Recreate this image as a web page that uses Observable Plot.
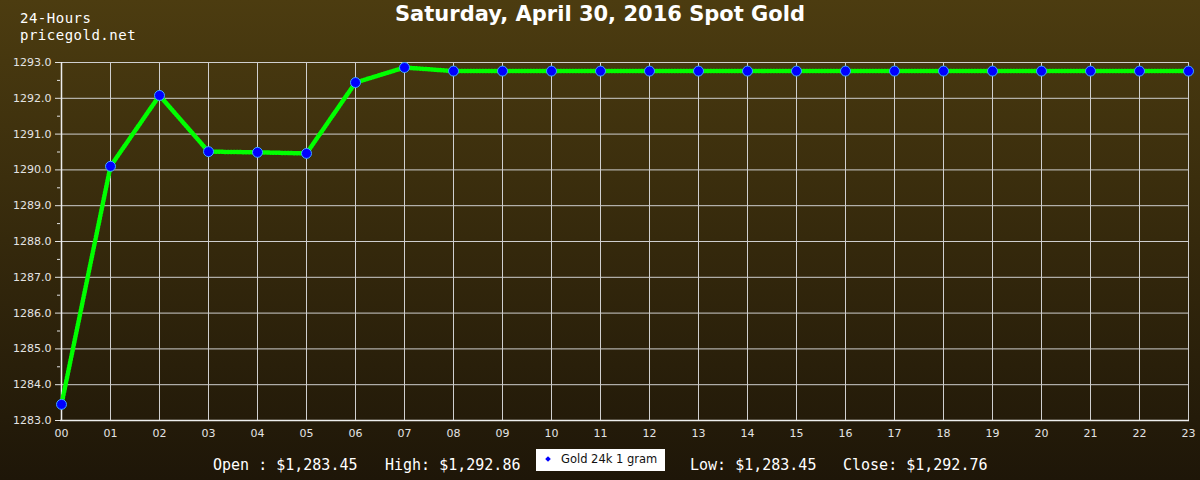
<!DOCTYPE html>
<html>
<head>
<meta charset="utf-8">
<script src="https://cdn.jsdelivr.net/npm/d3@7"></script>
<script src="https://cdn.jsdelivr.net/npm/@observablehq/plot@0.6"></script>
<style>
  html, body { margin: 0; padding: 0; background: #1e1608; }
  #wrap { position: relative; width: 1200px; height: 480px; overflow: hidden;
          background: linear-gradient(#4c3c10, #1e1608); }
  #wrap svg { position: absolute; left: 0; top: 0; }
  .mono { position: absolute; font-family: "DejaVu Sans Mono", monospace; font-size: 15px; color: #ffffff; white-space: pre; line-height: 14px; }
  .hdr { font-size: 14px; letter-spacing: 0.5px; }
  #title { position: absolute; left: 0; width: 1200px; top: 2px; text-align: center; font-family: "DejaVu Sans", sans-serif; font-weight: bold; font-size: 21px; color: #ffffff; }
  #legend { position: absolute; left: 536px; top: 449px; width: 129px; height: 22px; background: #ffffff; font-family: "DejaVu Sans", sans-serif; font-size: 11.5px; color: #111; }
  #legend .mk { position: absolute; left: 10px; top: 8px; width: 4px; height: 4px; background: #0000ff; transform: rotate(45deg); }
  #legend .lb { position: absolute; left: 25px; top: 3px; white-space: nowrap; }
</style>
</head>
<body>
<div id="wrap">
  <div class="mono hdr" style="left:20px; top:11px;">24-Hours</div>
  <div class="mono hdr" style="left:20px; top:28px;">pricegold.net</div>
  <div id="title">Saturday, April 30, 2016 Spot Gold</div>
  <div class="mono" style="left:213px; top:458px;">Open : $1,283.45</div>
  <div class="mono" style="left:385px; top:458px;">High: $1,292.86</div>
  <div id="legend"><div class="mk"></div><div class="lb">Gold 24k 1 gram</div></div>
  <div class="mono" style="left:690px; top:458px;">Low: $1,283.45</div>
  <div class="mono" style="left:843px; top:458px;">Close: $1,292.76</div>
</div>
<script>
const hours = ["00","01","02","03","04","05","06","07","08","09","10","11","12","13","14","15","16","17","18","19","20","21","22","23"];
const prices = [1283.45, 1290.10, 1292.08, 1290.51, 1290.49, 1290.46, 1292.44, 1292.86,
  1292.76, 1292.76, 1292.76, 1292.76, 1292.76, 1292.76, 1292.76, 1292.76,
  1292.76, 1292.76, 1292.76, 1292.76, 1292.76, 1292.76, 1292.76, 1292.76];
const yMajor = [1283,1284,1285,1286,1287,1288,1289,1290,1291,1292,1293];
const yMinor = [1283.5,1284.5,1285.5,1286.5,1287.5,1288.5,1289.5,1290.5,1291.5,1292.5];

const data = hours.map((h, i) => ({hour: h, price: prices[i]}));
const gridColor = "#cfcfcf";
const textColor = "#e4e4e4";

const chart = Plot.plot({
  width: 1200,
  height: 480,
  marginLeft: 60,
  marginRight: 11,
  marginTop: 62,
  marginBottom: 60,
  style: {background: "transparent", fontFamily: "DejaVu Sans, sans-serif", fontSize: "11px", overflow: "visible"},
  x: {type: "point", domain: hours, padding: 0, label: null},
  y: {domain: [1283, 1293], label: null},
  marks: [
    Plot.gridX(hours, {stroke: gridColor, strokeOpacity: 1, strokeWidth: 1}),
    Plot.gridY(yMajor, {stroke: gridColor, strokeOpacity: 1, strokeWidth: 1}),
    Plot.ruleY([1283], {stroke: "#eeeeee", strokeWidth: 1.5}),
    Plot.ruleX(["00"], {stroke: "#eeeeee", strokeWidth: 1.5}),
    Plot.axisY(yMajor, {tickSize: 5, tickPadding: 4, tickFormat: d => d.toFixed(1), color: textColor, fontSize: 11, label: null}),
    Plot.axisY(yMinor, {tickSize: 3, tickFormat: () => "", color: textColor, label: null}),
    Plot.axisX(hours, {tickSize: 0, tickPadding: 9, color: textColor, fontSize: 11, label: null}),
    Plot.line(data, {x: "hour", y: "price", stroke: "#00c800", strokeWidth: 1.5}),
    Plot.line(data, {x: "hour", y: "price", stroke: "#00ff00", strokeWidth: 4.5, strokeDasharray: "1.2,1.8"}),
    Plot.dot(data, {x: "hour", y: "price", r: 5, fill: "#0000ff", stroke: "#3fa9ff", strokeWidth: 1})
  ]
});
document.getElementById("wrap").prepend(chart);
</script>
</body>
</html>
